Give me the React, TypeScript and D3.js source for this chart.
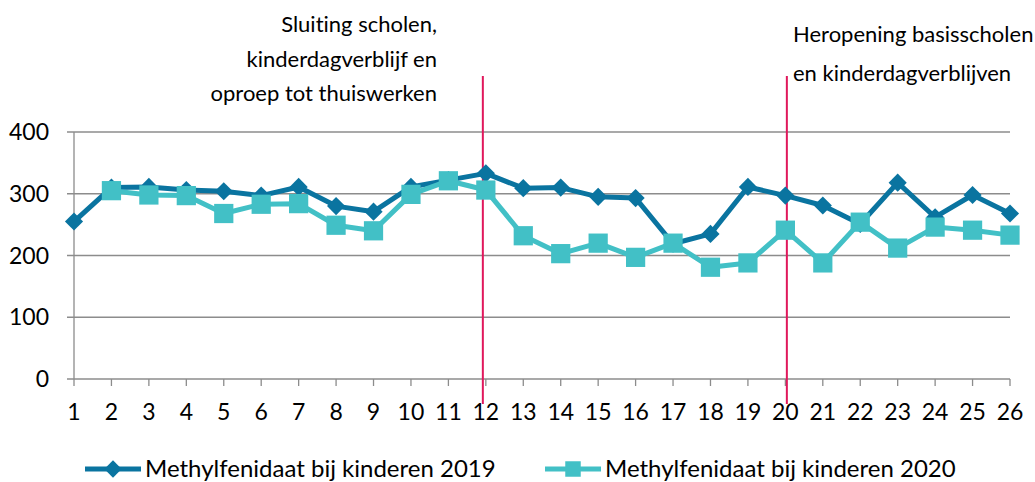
import React from "react";
import * as d3 from "d3";

const weeks = d3.range(1, 27);
const kinderen2019 = [255, 310, 311, 306, 304, 297, 311, 280, 271, 311, 322, 333, 309, 310, 295, 293, 219, 235, 311, 297, 281, 251, 318, 262, 298, 268];
const kinderen2020 = [null, 305, 298, 297, 268, 283, 284, 249, 240, 299, 321, 306, 232, 203, 220, 197, 220, 181, 188, 241, 188, 254, 212, 246, 241, 233];
const yTicks = [0, 100, 200, 300, 400];
const seriesNames = ["Methylfenidaat bij kinderen 2019", "Methylfenidaat bij kinderen 2020"];
const eventWeeks = [11.92, 20.04];

const W = 1035;
const H = 482;
const FONT = "Lato, 'Open Sans', sans-serif";
const C2019 = "#0A74A0";
const C2020 = "#42C0C6";
const RED = "#E0185C";
const GRID = "#8C8C8C";

const x = d3.scaleLinear().domain([1, 26]).range([74, 1010]);
const y = d3.scaleLinear().domain([0, 400]).range([379, 132]);

const diamond = d3.symbol().type(d3.symbolSquare).size(165)();
const square = d3.symbol().type(d3.symbolSquare).size(370)();
const legDiamond = d3.symbol().type(d3.symbolSquare).size(150)();
const legSquare = d3.symbol().type(d3.symbolSquare).size(240)();

const line = d3
  .line<number | null>()
  .defined((d) => d != null)
  .x((_, i) => x(weeks[i]))
  .y((d) => y(d as number));

export default function App() {
  return (
    <svg
      width={W}
      height={H}
      style={{ position: "absolute", left: 0, top: 0, background: "#fff", fontVariantLigatures: "none" }}
      fontFamily={FONT}
    >
      {/* gridlines */}
      {yTicks.map((t) => (
        <line key={t} x1={67} x2={x(26)} y1={y(t)} y2={y(t)} stroke={GRID} strokeWidth={1.3} />
      ))}
      <line x1={x(1)} x2={x(1)} y1={y(400)} y2={y(0)} stroke={GRID} strokeWidth={1.3} />
      {weeks.map((w) => (
        <line key={w} x1={x(w)} x2={x(w)} y1={y(0)} y2={y(0) + 7} stroke={GRID} strokeWidth={1.3} />
      ))}
      {yTicks.map((t) => (
        <text key={t} x={49} y={y(t) + 8} textAnchor="end" fontSize={23} fill="#000">
          {t}
        </text>
      ))}
      {weeks.map((w) => (
        <text key={w} x={x(w)} y={420} textAnchor="middle" fontSize={23} fill="#000">
          {w}
        </text>
      ))}

      {/* event lines */}
      {eventWeeks.map((w) => (
        <line key={w} x1={x(w)} x2={x(w)} y1={76} y2={404} stroke={RED} strokeWidth={2} />
      ))}
      <g fontSize={22} fill="#000" textAnchor="end">
        <text x={437} y={32}>Sluiting scholen,</text>
        <text x={437} y={67}>kinderdagverblijf en</text>
        <text x={437} y={101}>oproep tot thuiswerken</text>
      </g>
      <g fontSize={22} fill="#000">
        <text x={793} y={42}>Heropening basisscholen</text>
        <text x={793} y={81}>en kinderdagverblijven</text>
      </g>

      {/* series */}
      <path d={line(kinderen2019) ?? ""} fill="none" stroke={C2019} strokeWidth={5} strokeLinejoin="round" />
      {kinderen2019.map((v, i) => (
        <path key={i} d={diamond} transform={`translate(${x(weeks[i])},${y(v)}) rotate(45)`} fill={C2019} />
      ))}
      <path d={line(kinderen2020) ?? ""} fill="none" stroke={C2020} strokeWidth={5} strokeLinejoin="round" />
      {kinderen2020.map((v, i) =>
        v == null ? null : (
          <path key={i} d={square} transform={`translate(${x(weeks[i])},${y(v)})`} fill={C2020} />
        )
      )}

      {/* legend */}
      <line x1={85} x2={141} y1={469} y2={469} stroke={C2019} strokeWidth={5} />
      <path d={legDiamond} transform="translate(113,469) rotate(45)" fill={C2019} />
      <text x={145} y={477} fontSize={24} fill="#000">{seriesNames[0]}</text>
      <line x1={545} x2={601} y1={469} y2={469} stroke={C2020} strokeWidth={5} />
      <path d={legSquare} transform="translate(573,469)" fill={C2020} />
      <text x={605} y={477} fontSize={24} fill="#000">{seriesNames[1]}</text>
    </svg>
  );
}
